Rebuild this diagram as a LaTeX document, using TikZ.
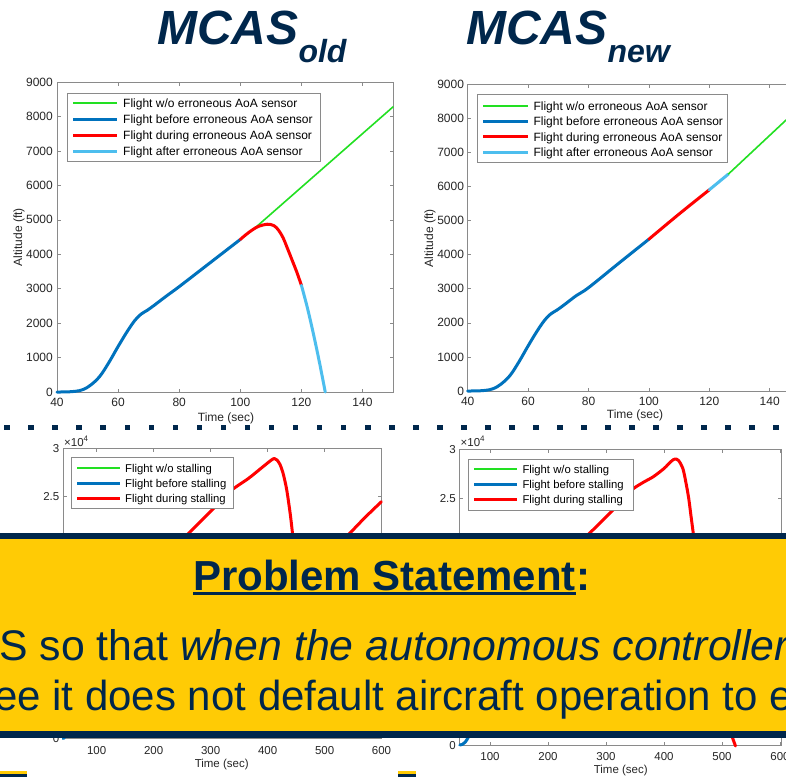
\documentclass[tikz,border=0pt]{standalone}
\usepackage{fontspec}
\setmainfont{Liberation Sans}
\definecolor{navy}{HTML}{00274C}
\definecolor{maize}{HTML}{FFCB05}
\definecolor{mblue}{HTML}{0072BD}
\definecolor{mlblue}{HTML}{4DBEEE}
\definecolor{mred}{HTML}{FF0000}
\definecolor{mgreen}{HTML}{22E022}
\definecolor{axgray}{HTML}{8A8A8A}
\definecolor{txtgray}{HTML}{262626}
\tikzset{
  frame/.style={draw=axgray, line width=0.8pt},
  tickmark/.style={draw=axgray, line width=0.6pt},
  ticklbl/.style={font=\fontsize{12}{12}\selectfont, text=txtgray, inner sep=0pt},
  sticklbl/.style={font=\fontsize{11.5}{12}\selectfont, text=txtgray, inner sep=0pt},
  leglbl/.style={font=\fontsize{12}{12}\selectfont, text=black, anchor=base west, inner sep=0pt},
  sleglbl/.style={font=\fontsize{11.3}{12}\selectfont, text=black, anchor=base west, inner sep=0pt},
  legbox/.style={draw=axgray, fill=white, line width=0.8pt},
  thickcurve/.style={line width=3pt, line join=round, line cap=round},
  thincurve/.style={line width=1.6pt, line cap=round},
  legline/.style={line width=1.8pt, draw=mgreen},
  banner/.style={text=navy, inner sep=0pt, anchor=base west, font=\fontsize{42}{44}\selectfont},
  titletxt/.style={text=navy, inner sep=0pt, anchor=base west, font=\fontsize{48}{50}\selectfont\bfseries\itshape}
}
\begin{document}
\begin{tikzpicture}[x=1pt,y=-1pt]
\useasboundingbox (0,0) rectangle (786,777);
\clip (0,0) rectangle (786,777);
\fill[white] (0,0) rectangle (786,777);

% ---------- titles ----------
\node[titletxt] (told) at (157,44) {MCAS\raisebox{-18pt}{\fontsize{32}{34}\selectfont old}};
\node[titletxt] (tnew) at (466,44) {MCAS\raisebox{-18pt}{\fontsize{32}{34}\selectfont new}};

% ---------- top-left plot ----------
\begin{scope}[shift={(-65.2,392)}, x=3.055pt, y=0.03444pt]
  \draw[frame] (40,0) rectangle (150,9000);
  \foreach \t in {40,60,...,140} {
    \draw[tickmark] (\t,0) -- ++(0pt,3.5pt);
    \draw[tickmark] (\t,9000) -- ++(0pt,-3.5pt);
    \node[ticklbl, anchor=north, yshift=-5.8pt] (xl-\t) at (\t,0) {\t};
  }
  \foreach \h in {0,1000,...,9000} {
    \draw[tickmark] (40,\h) -- ++(3.5pt,0pt);
    \draw[tickmark] (150,\h) -- ++(-3.5pt,0pt);
    \node[ticklbl, anchor=east, xshift=-4pt] (yl-\h) at (40,\h) {\h};
  }
  \draw[thincurve, mgreen] (104,4700) -- (150,8280);
  \draw[thickcurve, mblue] plot[smooth, tension=0.6] coordinates {(40,0) (43,3) (46,20) (48.5,70) (51,200) (54,454) (57,860) (60,1322) (63,1760) (65.5,2080) (67.5,2260) (69.5,2370) (72,2530) (76,2800) (80,3060) (90,3745) (100,4430)};
  \draw[thickcurve, mred] plot[smooth, tension=0.6] coordinates {(100,4430) (102,4580) (104,4710) (106,4810) (108.8,4872) (111,4830) (112.5,4700) (114,4480) (115.3,4200) (117,3820) (118.5,3480) (120,3100)};
  \draw[thickcurve, mlblue] plot[smooth, tension=0.6] coordinates {(120,3100) (122,2430) (124.1,1620) (126,820) (127.8,0)};
\end{scope}
\node[ticklbl] (xt1) at (226,418) {Time (sec)};
\node[ticklbl, rotate=90] (yt1) at (19,237) {Altitude (ft)};
\draw[legbox] (67,93) rectangle (320,161);
\draw[legline] (73,103) -- (117,103);
\draw[thickcurve, mblue, line cap=butt] (73,119) -- (117,119);
\draw[thickcurve, mred, line cap=butt] (73,135) -- (117,135);
\draw[thickcurve, mlblue, line cap=butt] (73,151) -- (117,151);
\node[leglbl] (la1) at (123,107.3) {Flight w/o erroneous AoA sensor};
\node[leglbl] (la2) at (123,123.3) {Flight before erroneous AoA sensor};
\node[leglbl] (la3) at (123,139.3) {Flight during erroneous AoA sensor};
\node[leglbl] (la4) at (123,155.3) {Flight after erroneous AoA sensor};

% ---------- top-right plot ----------
\begin{scope}[shift={(346.9,391)}, x=3.02pt, y=0.0341pt]
  \draw[frame] (40,0) rectangle (152,9000);
  \foreach \t in {40,60,...,140} {
    \draw[tickmark] (\t,0) -- ++(0pt,3.5pt);
    \draw[tickmark] (\t,9000) -- ++(0pt,-3.5pt);
    \node[ticklbl, anchor=north, yshift=-5.5pt] (xr-\t) at (\t,0) {\t};
  }
  \foreach \h in {0,1000,...,9000} {
    \draw[tickmark] (40,\h) -- ++(3.5pt,0pt);
    \node[ticklbl, anchor=east, xshift=-3.5pt] (yr-\h) at (40,\h) {\h};
  }
  \draw[thickcurve, mblue] plot[smooth, tension=0.6] coordinates {(40,0) (43,3) (46,20) (48.5,70) (51,200) (54,454) (57,860) (60,1322) (63,1760) (65.5,2080) (67.5,2260) (69.5,2370) (72,2530) (76,2800) (80,3030) (90,3745) (100,4452)};
  \draw[thickcurve, mred] plot[smooth, tension=0.6] coordinates {(100,4452) (110,5190) (120,5900)};
  \draw[thickcurve, mlblue] (120,5900) -- (126.3,6360);
  \draw[thincurve, mgreen] (126.3,6360) -- (152,8490);
\end{scope}
\node[ticklbl] (xt2) at (635,415.7) {Time (sec)};
\node[ticklbl, rotate=90] (yt2) at (430,238) {Altitude (ft)};
\draw[legbox] (477.3,94.3) rectangle (727.7,162.3);
\draw[legline] (483.3,105.7) -- (528.3,105.7);
\draw[thickcurve, mblue, line cap=butt] (483.3,121) -- (528.3,121);
\draw[thickcurve, mred, line cap=butt] (483.3,136.7) -- (528.3,136.7);
\draw[thickcurve, mlblue, line cap=butt] (483.3,152.3) -- (528.3,152.3);
\node[leglbl] (lb1) at (533.3,110) {Flight w/o erroneous AoA sensor};
\node[leglbl] (lb2) at (533.3,125.3) {Flight before erroneous AoA sensor};
\node[leglbl] (lb3) at (533.3,141) {Flight during erroneous AoA sensor};
\node[leglbl] (lb4) at (533.3,156.6) {Flight after erroneous AoA sensor};

% ---------- dotted separator ----------
\foreach \k in {0,...,32} {
  \fill[navy] ({7.3+24.02*\k-2.9},424.6) rectangle ++(5.8,5.8);
}

% ---------- bottom-left plot ----------
\draw[frame] (63.3,448.3) rectangle (381.5,738.3);
\foreach \t/\xx in {100/96.6,200/153.6,300/210.6,400/267.6,500/324.6,600/381.5} {
  \draw[tickmark] (\xx,738.3) -- ++(0,-3.5);
  \draw[tickmark] (\xx,448.3) -- ++(0,3.5);
  \node[sticklbl] (bxl-\t) at (\xx,750.7) {\t};
}
\foreach \yy in {448.3,496.6,544.9,593.2,641.5,689.8,738.3} {
  \draw[tickmark] (63.3,\yy) -- ++(3.5,0);
  \draw[tickmark] (381.5,\yy) -- ++(-3.5,0);
}
\node[sticklbl, anchor=east] (byl-3) at (59.5,448.3) {3};
\node[sticklbl, anchor=east] (byl-25) at (59.5,496.6) {2.5};
\node[sticklbl, anchor=east] (byl-0) at (59.5,738.3) {0};
\node[sticklbl, anchor=base west] (bexp1) at (64,446) {×10\raisebox{4.5pt}{\fontsize{8}{8}\selectfont 4}};
\node[sticklbl] (bxt1) at (221.7,765) {Time (sec)};
\draw[thickcurve, mred] plot[smooth, tension=0.5] coordinates {(182,540) (187.7,534.3) (210,512) (227,495) (233,489) (248.6,478.3) (262,467.5) (271,460.3) (274.3,458.5) (277,460) (280,464.5) (283,473) (286,486) (288,498) (290.5,516) (292.6,534.3) (293.2,540)};
\draw[thickcurve, mred] plot[smooth, tension=0.5] coordinates {(343,540) (348.8,534.3) (365,517.5) (381.4,501.7)};
\draw[thickcurve, mblue] (63.3,738.5) .. controls (65,738) and (66,736) .. (68,730);
\draw[legbox] (71.7,457.7) rectangle (233.3,508.3);
\draw[legline] (77.3,468.3) -- (120,468.3);
\draw[thickcurve, mblue, line cap=butt] (77.3,483.3) -- (120,483.3);
\draw[thickcurve, mred, line cap=butt] (77.3,498.3) -- (120,498.3);
\node[sleglbl] (lc1) at (125,472.4) {Flight w/o stalling};
\node[sleglbl] (lc2) at (125,487.4) {Flight before stalling};
\node[sleglbl] (lc3) at (125,502.4) {Flight during stalling};

% ---------- bottom-right plot ----------
\draw[frame] (459.3,449.3) rectangle (781,745);
\foreach \t/\xx in {100/490,200/548,300/606,400/664,500/722,600/780} {
  \draw[tickmark] (\xx,745) -- ++(0,-3.5);
  \draw[tickmark] (\xx,449.3) -- ++(0,3.5);
  \node[sticklbl] (dxl-\t) at (\xx,756.7) {\t};
}
\foreach \yy in {449.3,498.6,547.9,597.2,646.5,695.8,745} {
  \draw[tickmark] (459.3,\yy) -- ++(3.5,0);
  \draw[tickmark] (781,\yy) -- ++(-3.5,0);
}
\node[sticklbl, anchor=east] (dyl-3) at (456,449.3) {3};
\node[sticklbl, anchor=east] (dyl-25) at (456,498.6) {2.5};
\node[sticklbl, anchor=east] (dyl-0) at (456,745.5) {0};
\node[sticklbl, anchor=base west] (bexp2) at (460.5,446) {×10\raisebox{4.5pt}{\fontsize{8}{8}\selectfont 4}};
\node[sticklbl] (dxt2) at (620.7,771) {Time (sec)};
\draw[thickcurve, mred] plot[smooth, tension=0.5] coordinates {(583,540) (588.5,534.3) (603,520) (618,505) (631.7,490) (643,482.5) (653.3,476.7) (664,468.5) (671,461.5) (674.9,459) (678.5,460.5) (682.8,468.3) (686,483) (688.7,498.3) (691,516) (693.4,534.3) (694,540)};
\draw[thickcurve, mred] (730,731) -- (735.5,746);
\draw[thickcurve, mblue] (459.8,745) .. controls (464,745) and (467,741) .. (471,731);
\draw[legbox] (468.3,459) rectangle (633.3,510);
\draw[legline] (474,469.3) -- (517.3,469.3);
\draw[thickcurve, mblue, line cap=butt] (474,484.3) -- (517.3,484.3);
\draw[thickcurve, mred, line cap=butt] (474,499.7) -- (517.3,499.7);
\node[sleglbl] (ld1) at (522.3,473.4) {Flight w/o stalling};
\node[sleglbl] (ld2) at (522.3,488.4) {Flight before stalling};
\node[sleglbl] (ld3) at (522.3,503.8) {Flight during stalling};

% ---------- banner ----------
\fill[navy] (0,533) rectangle (786,737.5);
\fill[maize] (0,539) rectangle (786,731);
\node[banner, font=\fontsize{42}{44}\selectfont\bfseries] (ps) at (193,590) {Problem Statement};
\node[banner, font=\fontsize{42}{44}\selectfont\bfseries] (psc) at (ps.base east) {:};
\fill[navy] ([yshift=-1.8pt]ps.base west) rectangle ([yshift=-5.2pt]ps.base east);
\node[banner, font=\fontsize{42.8}{44}\selectfont] (l2) at (-1,660) {S so that \textit{when the autonomous controller}};
\node[banner] (l3) at (-6,710) {ee it does not default aircraft operation to e};

% ---------- bottom strips ----------
\fill[maize] (0,771) rectangle (27,774);
\fill[navy] (0,774) rectangle (27,777);
\fill[maize] (397.5,771) rectangle (416,774);
\fill[navy] (397.5,774) rectangle (416,777);
\end{tikzpicture}
\end{document}
